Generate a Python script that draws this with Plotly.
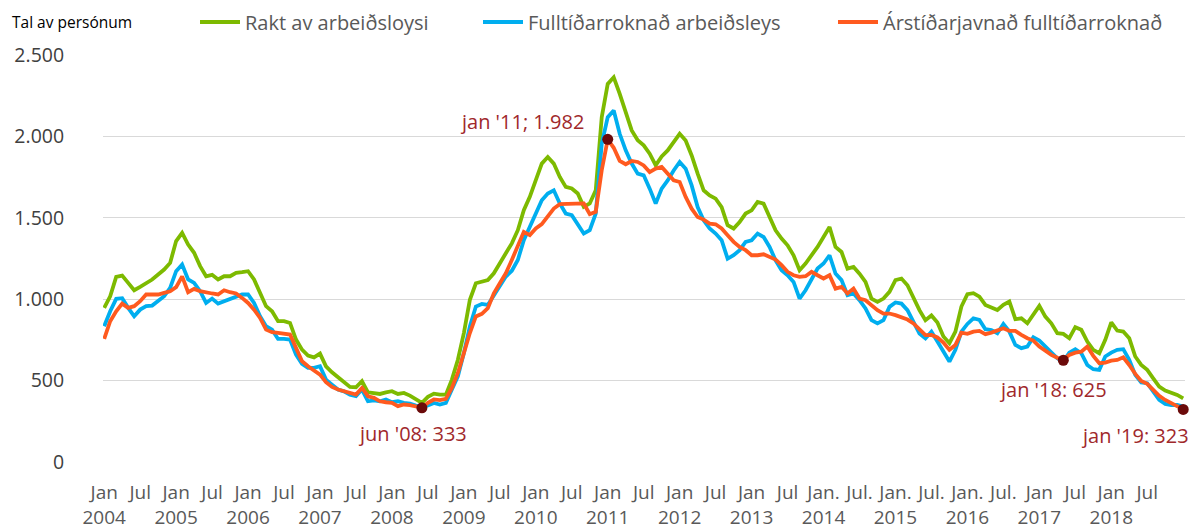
import plotly.graph_objects as go

# ---------------- data (monthly, Jan 2004 .. Jan 2019) ----------------
rakt = [947, 1018, 1137, 1145, 1100, 1055, 1076, 1096, 1121, 1152, 1182, 1223,
        1357, 1408, 1336, 1285, 1203, 1141, 1150, 1121, 1141, 1141, 1162, 1166,
        1172, 1121, 1039, 957, 926, 865, 865, 854, 752, 690, 654, 643,
        666, 588, 551, 520, 490, 461, 459, 496, 428, 424, 418, 428,
        435, 418, 424, 408, 388, 363, 400, 420, 414, 414, 506, 628,
        792, 996, 1098, 1108, 1118, 1159, 1216, 1282, 1343, 1424, 1547, 1629,
        1731, 1833, 1873, 1833, 1751, 1690, 1680, 1649, 1567, 1588, 1669, 2118,
        2322, 2363, 2261, 2139, 2037, 1976, 1945, 1894, 1822, 1877, 1914, 1965,
        2016, 1975, 1883, 1771, 1669, 1638, 1618, 1566, 1454, 1434, 1474, 1526,
        1546, 1597, 1587, 1505, 1423, 1372, 1331, 1270, 1178, 1219, 1270, 1321,
        1382, 1444, 1321, 1290, 1188, 1198, 1157, 1106, 1004, 984, 1004, 1045,
        1117, 1127, 1086, 1004, 933, 871, 900, 857, 771, 730, 801, 955,
        1031, 1037, 1016, 965, 951, 934, 965, 986, 877, 883, 852, 904,
        959, 893, 852, 791, 787, 760, 828, 812, 740, 689, 668, 750,
        857, 807, 801, 760, 648, 596, 566, 514, 463, 439, 426, 412,
        391]

fulltid = [834, 926, 1002, 1006, 947, 895, 936, 957, 961, 988, 1018, 1070,
           1172, 1213, 1121, 1100, 1049, 977, 1004, 973, 988, 1002, 1018, 1029,
           1029, 977, 895, 834, 813, 756, 756, 752, 660, 602, 578, 578,
           588, 506, 475, 445, 434, 414, 404, 445, 373, 378, 373, 384,
           367, 373, 363, 359, 347, 340, 347, 363, 353, 363, 445, 526,
           669, 833, 955, 971, 965, 1026, 1077, 1139, 1175, 1241, 1363, 1445,
           1537, 1608, 1649, 1669, 1588, 1526, 1516, 1465, 1404, 1424, 1526, 1955,
           2118, 2159, 2016, 1914, 1833, 1771, 1761, 1679, 1587, 1679, 1730, 1791,
           1843, 1802, 1699, 1566, 1485, 1434, 1403, 1362, 1249, 1270, 1301, 1352,
           1362, 1403, 1382, 1321, 1239, 1178, 1147, 1106, 1004, 1055, 1117, 1188,
           1219, 1270, 1157, 1117, 1025, 1035, 994, 943, 871, 851, 871, 953,
           980, 973, 933, 861, 789, 759, 800, 740, 678, 617, 689, 801,
           848, 883, 873, 816, 811, 791, 848, 801, 719, 699, 709, 766,
           746, 709, 678, 637, 617, 672, 693, 668, 596, 570, 566, 648,
           672, 689, 693, 627, 535, 488, 484, 432, 381, 357, 350, 350,
           340]

arstid = [756, 865, 926, 973, 947, 957, 988, 1029, 1029, 1029, 1039, 1049,
          1074, 1140, 1043, 1063, 1049, 1039, 1035, 1029, 1055, 1043, 1035, 1008,
          977, 936, 885, 813, 797, 793, 787, 783, 701, 619, 588, 564,
          537, 490, 461, 445, 434, 428, 414, 455, 404, 394, 373, 367,
          363, 343, 353, 349, 343, 333, 363, 384, 380, 388, 455, 547,
          669, 792, 894, 910, 945, 1036, 1098, 1159, 1241, 1333, 1414, 1394,
          1435, 1461, 1506, 1557, 1584, 1584, 1584, 1584, 1588, 1522, 1537, 1792,
          1982, 1930, 1850, 1829, 1849, 1843, 1822, 1781, 1802, 1812, 1771, 1730,
          1720, 1628, 1556, 1505, 1489, 1464, 1460, 1434, 1393, 1352, 1321, 1301,
          1270, 1270, 1276, 1260, 1243, 1209, 1168, 1147, 1137, 1141, 1168, 1147,
          1127, 1147, 1065, 1076, 1035, 1065, 1004, 994, 963, 933, 912, 912,
          902, 888, 875, 851, 814, 779, 780, 765, 734, 689, 719, 795,
          787, 801, 805, 785, 795, 807, 822, 805, 805, 781, 760, 746,
          709, 684, 658, 640, 625, 658, 672, 678, 709, 652, 607, 611,
          623, 627, 643, 596, 541, 498, 480, 443, 406, 381, 361, 344,
          323]

years = [str(y) for y in range(2004, 2019)]
jan_labels = ["Jan"] * 10 + ["Jan."] * 3 + ["Jan"] * 2
jul_labels = ["Jul"] * 10 + ["Jul."] * 3 + ["Jul"] * 2

# highlighted points (index into series, label text)
hl_idx = [53, 84, 160, 180]
hl_text = ["jun '08: 333", "jan '11; 1.982", "jan '18: 625", "jan '19: 323"]
hl_shift = [(-9, -26), (-86, 18), (-10, -29), (-48, -26)]

names = ["Rakt av arbeiðsloysi", "Fulltíðarroknað arbeiðsleys",
         "Árstíðarjavnað fulltíðarroknað"]
colors = ["#7DBA00", "#00AEEF", "#FF5A1F"]

# ---------------- figure ----------------
x = list(range(len(rakt)))
FONT = "Open Sans"
fig = go.Figure()
legends = ["legend", "legend2", "legend3"]
for ser, nm, col, lg in zip([rakt, fulltid, arstid], names, colors, legends):
    fig.add_trace(go.Scatter(x=x, y=ser, mode="lines", name=nm,
                             line=dict(color=col, width=3.8),
                             legend=lg, hoverinfo="skip"))

fig.add_trace(go.Scatter(x=hl_idx, y=[arstid[i] for i in hl_idx], mode="markers",
                         marker=dict(color="#6B0A0A", size=11),
                         cliponaxis=False,
                         showlegend=False, hoverinfo="skip"))

for i, t, (dx, dy) in zip(hl_idx, hl_text, hl_shift):
    fig.add_annotation(x=i, y=arstid[i], text=t, showarrow=False,
                       xshift=dx, yshift=dy,
                       font=dict(family=FONT, size=20, color="#A0282B"))

tickvals, ticktext = [], []
for k, yr in enumerate(years):
    tickvals += [12 * k, 12 * k + 6]
    ticktext += [jan_labels[k] + "<br>" + yr, jul_labels[k]]

W, H = 1189, 529
L, R, T, B = 103, 4, 55, 67
pw = W - L - R
ph = H - T - B

def px_x(p):
    return (p - L) / pw

def px_y(p):
    return (H - B - p) / ph

leg_common = dict(orientation="h", xanchor="left", yanchor="middle",
                  xref="container", yref="container",
                  y=1 - 22 / H, itemwidth=40, bgcolor="rgba(0,0,0,0)",
                  font=dict(family=FONT, size=20, color="#595959"))

fig.update_layout(
    width=W, height=H,
    margin=dict(l=L, r=R, t=T, b=B, autoexpand=False),
    paper_bgcolor="white", plot_bgcolor="white",
    separators=",.",
    font=dict(family=FONT),
    legend=dict(x=195 / W, **leg_common),
    legend2=dict(x=478 / W, **leg_common),
    legend3=dict(x=833 / W, **leg_common),
    xaxis=dict(range=[-0.2, 180.3], tickmode="array", tickvals=tickvals,
               ticktext=ticktext, tickangle=0, showgrid=False, zeroline=False,
               showline=False, ticks="outside", ticklen=13, automargin=False,
               tickcolor="rgba(0,0,0,0)",
               tickfont=dict(family=FONT, size=19, color="#595959")),
    yaxis=dict(range=[0, 2500], tickvals=[0, 500, 1000, 1500, 2000, 2500],
               tickformat=",d", showgrid=True, gridcolor="#D9D9D9",
               gridwidth=1.3, zeroline=False, showline=False, automargin=False,
               ticks="outside", ticklen=34, tickcolor="rgba(0,0,0,0)",
               tickfont=dict(family=FONT, size=19.5, color="#404040")),
)

fig.add_annotation(xref="paper", yref="paper", x=px_x(10), y=px_y(22),
                   xanchor="left", yanchor="middle", showarrow=False,
                   text="Tal av persónum",
                   font=dict(family=FONT, size=15.5, color="#000000"))

fig.write_html("out.html",
               config={"displayModeBar": False, "staticPlot": True},
               post_script="document.body.style.margin='0';"
                           "document.body.style.overflow='hidden';")
